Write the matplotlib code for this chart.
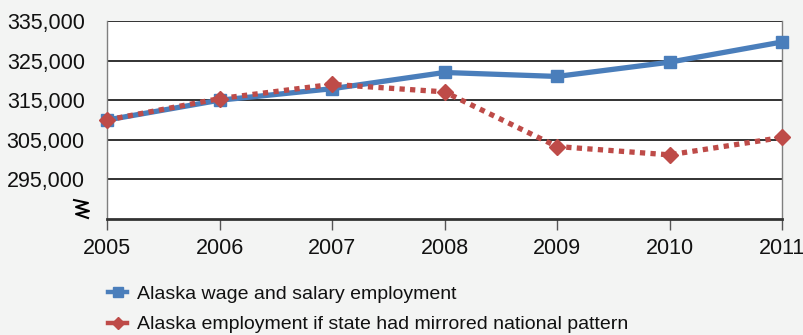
import matplotlib
matplotlib.use("Agg")
import matplotlib.pyplot as plt
from matplotlib.lines import Line2D
from matplotlib.ticker import FuncFormatter

# Alaska employment, actual vs. a national-pattern scenario
years = [2005, 2006, 2007, 2008, 2009, 2010, 2011]
actual = [310000, 315000, 317900, 322000, 321000, 324600, 329700]
mirrored = [310000, 315400, 319000, 317100, 303300, 301200, 305600]
yticks = [295000, 305000, 315000, 325000, 335000]
labels = ["Alaska wage and salary employment",
          "Alaska employment if state had mirrored national pattern"]

BLUE = "#4a7ebb"
RED = "#be4b48"
BG = "#f3f4f3"

plt.rcParams["font.family"] = ["Liberation Sans", "DejaVu Sans"]

W, H = 804, 335
fig = plt.figure(figsize=(W / 100, H / 100), dpi=100, facecolor=BG)
ax = fig.add_axes([107 / W, 1 - 219 / H, (782 - 107) / W, (219 - 21) / H])
ax.set_facecolor("white")

ax.set_xlim(years[0], years[-1])
ax.set_ylim(285000, 335000)
ax.set_yticks(yticks)
ax.yaxis.set_major_formatter(FuncFormatter(lambda v, p: f"{int(v):,}"))
ax.set_xticks(years)
ax.grid(axis="y", color="#222222", lw=1.3)
ax.set_axisbelow(True)

for side in ("left", "right", "top"):
    ax.spines[side].set_color("#7f7f7f")
    ax.spines[side].set_linewidth(1.0)
ax.spines["top"].set_visible(False)
ax.spines["bottom"].set_color("#333333")
ax.spines["bottom"].set_linewidth(2.0)

ax.tick_params(axis="y", length=0, labelsize=15.5, pad=16, colors="#111111")
ax.tick_params(axis="x", length=8, width=1.0, color="#555555", direction="out",
               labelsize=15.5, pad=6, labelcolor="#111111")

ax.plot(years, actual, color=BLUE, lw=3.8, marker="s", markersize=9,
        clip_on=False, zorder=3, solid_capstyle="butt")
ax.plot(years, mirrored, color=RED, lw=3.8, linestyle=(0, (1, 1)),
        marker="D", markersize=8, clip_on=False, zorder=4,
        dash_capstyle="butt")

# axis-break mark below the lowest labelled tick
zx = [74, 88, 76, 89, 76, 88]
zy = [200, 203, 207, 211, 214, 218]
fig.add_artist(Line2D([x / W for x in zx], [1 - y / H for y in zy],
                      transform=fig.transFigure, color="black", lw=1.5))

handles = [
    Line2D([], [], color=BLUE, lw=3.2, marker="s", markersize=7),
    Line2D([], [], color=RED, lw=3.2, marker="D", markersize=6),
]
fig.legend(handles, labels, loc="upper left", bbox_to_anchor=(108 / W, 1 - 285 / H),
           frameon=False, fontsize=14, handlelength=1.0, handletextpad=0.5,
           labelspacing=0.68, borderaxespad=0, borderpad=0, labelcolor="#111111")

fig.savefig("out.png", dpi=100, facecolor=BG)
